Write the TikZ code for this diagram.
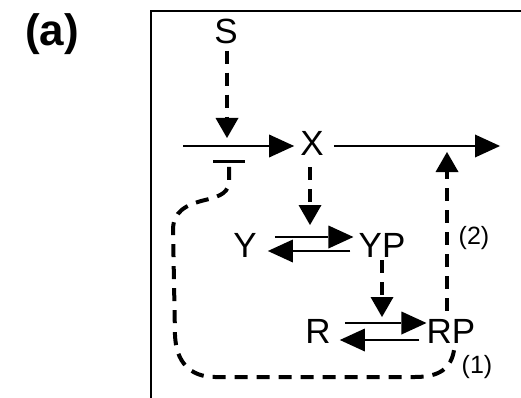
\documentclass[tikz,border=0pt]{standalone}
\usepackage{fontspec}
\setmainfont{Liberation Sans}
\usetikzlibrary{arrows.meta,calc}
\begin{document}
\begin{tikzpicture}[x=1pt,y=-1pt,
  lbl/.style={inner sep=0pt, font=\fontsize{35}{40}\selectfont},
  small/.style={inner sep=0pt, font=\fontsize{25}{29}\selectfont},
  solidarr/.style={line width=2pt, -{Triangle[length=25pt,width=23pt,line width=0pt]}},
  dasharr/.style={line width=4pt, dash pattern=on 13pt off 9pt, -{Triangle[length=20pt,width=23pt,line width=0pt]}},
  dashln/.style={line width=4pt, dash pattern=on 13pt off 9pt},
]
\useasboundingbox (0,0) rectangle (521,398);
\draw[line width=2pt] (151,398) -- (151,11) -- (521,11);
\node[inner sep=0pt, font=\bfseries\fontsize{44}{50}\selectfont] (a) at (52,34) {(a)};

\node[lbl] (S) at (226,31) {S};
\node[lbl] (X) at (312,143) {X};
\node[lbl] (Y) at (245,245) {Y};
\node[lbl] (YP) at (382,245) {YP};
\node[lbl] (R) at (318,331) {R};
\node[lbl] (RP) at (451,331) {RP};
\node[small] (l2) at (474,238) {(2)};
\node[small] (l1) at (477,367) {(1)};

\coordinate (in) at (183,146);
\coordinate (out) at (500,146);
\coordinate (sj) at (227,138);
\coordinate (bar) at (229,160);
\coordinate (fb2) at (447,152);
\coordinate (r1) at (310,225);
\coordinate (r2) at (382,317);

% main line
\draw[solidarr] (in) -- ($(X.west |- in)+(-6,0)$);
\draw[solidarr] ($(X.east |- in)+(10,0)$) -- (out);
% S activation
\draw[dasharr] ($(S.south)+(1,7)$) -- (sj);
% X -> Y phosphorylation
\draw[dasharr] ($(X.south)+(-2,12)$) -- (r1);
% Y <-> YP
\draw[solidarr] ($(Y.east)+(18,-8)$) -- ($(YP.west)+(-5,-8)$);
\draw[solidarr] ($(YP.west)+(-8,6)$) -- ($(Y.east)+(11,6)$);
% YP -> RP
\draw[dasharr] ($(YP.south)+(0,3)$) -- (r2);
% R <-> RP
\draw[solidarr] ($(R.east)+(14,-8)$) -- ($(RP.west)+(0,-8)$);
\draw[solidarr] ($(RP.west)+(-7,9)$) -- ($(R.east)+(9,9)$);
% feedback (2)
\draw[dasharr] ($(RP.north)+(-4,-8)$) -- (fb2);
% feedback (1)
\draw[dashln, -{Bar[width=32pt,line width=3pt]}]
  ($(RP.south)+(3,7)$) .. controls (451,368) and (440,377) .. (415,377)
  -- (215,377) .. controls (190,377) and (176,362) .. (175,335)
  -- (173,230) .. controls (173,212) and (185,205) .. (205,200)
  .. controls (222,196) and (229,192) .. (229,180) -- (bar);
\end{tikzpicture}
\end{document}
